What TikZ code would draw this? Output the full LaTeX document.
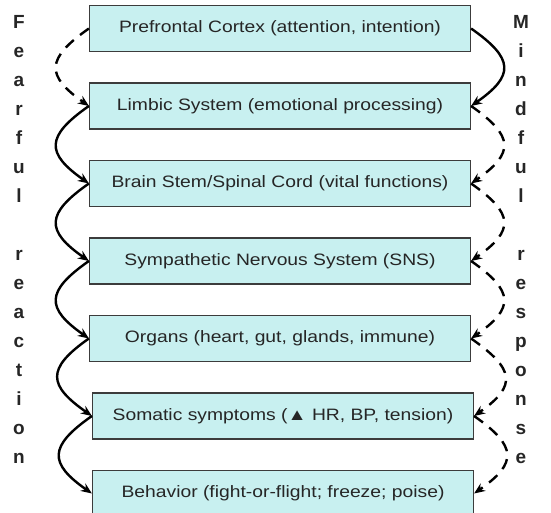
\documentclass[tikz,border=0pt]{standalone}
\usepackage{fontspec}
\setmainfont{Liberation Sans}
\newfontfamily\boxfont[FakeStretch=1.17]{Liberation Sans}
\usetikzlibrary{positioning, arrows.meta}
\definecolor{boxfill}{RGB}{200,240,240}
\definecolor{boxline}{RGB}{60,60,60}

\begin{document}
\begin{tikzpicture}[
            node distance = 30.3pt,
            level/.style = {draw=boxline, line width=1.2pt, fill=boxfill, minimum width=381pt, minimum height=46pt, inner sep=0pt, font=\boxfont\fontsize{16.5}{19}\selectfont, text=black!85},
            side/.style = {align=center, inner sep=0pt, anchor=north, font=\fontsize{19}{29}\selectfont\bfseries, text=black!85},
            >={Stealth[length=11pt, width=9pt]},  % arrow tip for all arcs
            line/.style = {draw, line width=2.4pt, ->},
            dline/.style = {line, dash pattern=on 11pt off 8pt},
            leftarc/.style = {out=215, in=145, looseness=1.75},
            rightarc/.style = {out=-35, in=35, looseness=1.75},
            ]
            \useasboundingbox (0,0) rectangle (551pt,-513pt);

            \node[level] (B1) at (280pt,-28.5pt) {Prefrontal Cortex (attention, intention)};
            \node[level, below=of B1] (B2) {Limbic System (emotional processing)};
            \node[level, below=of B2] (B3) {Brain Stem/Spinal Cord (vital functions)};
            \node[level, below=of B3] (B4) {Sympathetic Nervous System (SNS)};
            \node[level, below=of B4] (B5) {Organs (heart, gut, glands, immune)};
            \node[level, below=of B5, xshift=3pt] (B6) {Somatic symptoms (▲ HR, BP, tension)};
            \node[level, below=of B6] (B7) {Behavior (fight-or-flight; freeze; poise)};

            % side labels
            \node[side] (fear) at (19pt,-15pt) {F\\e\\a\\r\\f\\u\\l\\[29pt]r\\e\\a\\c\\t\\i\\o\\n};
            \node[side] (mind) at (521pt,-15pt) {M\\i\\n\\d\\f\\u\\l\\[29pt]r\\e\\s\\p\\o\\n\\s\\e};

            % fearful path
            \draw[dline] (B1.west) to[leftarc] (B2.west);
            \draw[line] (B2.west) to[leftarc] (B3.west);
            \draw[line] (B3.west) to[leftarc] (B4.west);
            \draw[line] (B4.west) to[leftarc] (B5.west);
            \draw[line] (B5.west) to[leftarc] (B6.west);
            \draw[line] (B6.west) to[leftarc] (B7.west);

            % mindful path
            \draw[line] (B1.east) to[rightarc] (B2.east);
            \draw[dline] (B2.east) to[rightarc] (B3.east);
            \draw[dline] (B3.east) to[rightarc] (B4.east);
            \draw[dline] (B4.east) to[rightarc] (B5.east);
            \draw[dline] (B5.east) to[rightarc] (B6.east);
            \draw[dline] (B6.east) to[rightarc] (B7.east);
        \end{tikzpicture}
\end{document}
